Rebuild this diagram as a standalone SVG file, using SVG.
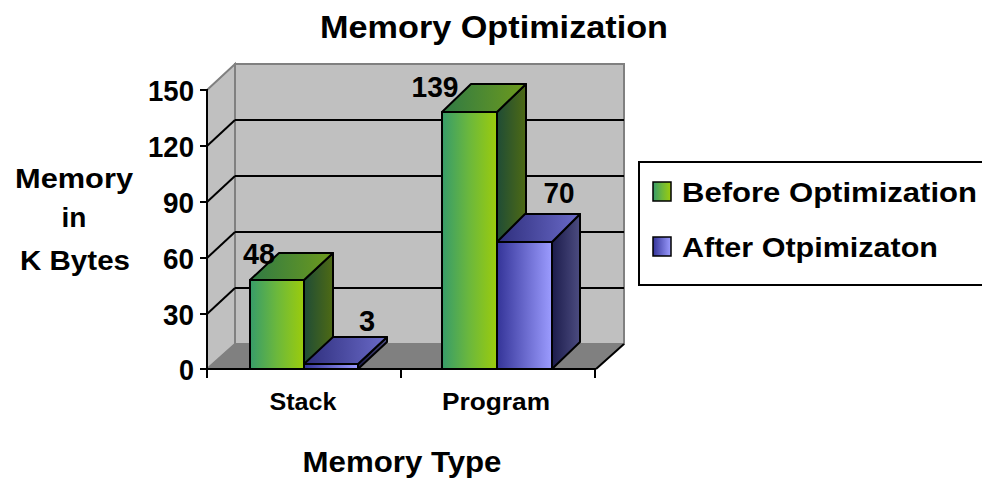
<svg xmlns="http://www.w3.org/2000/svg" width="982" height="486" viewBox="0 0 982 486">
<style>
text{font-family:"Liberation Sans",Arial,sans-serif;font-weight:bold;fill:#000}
.wall{fill:#c0c0c0;stroke:#808080;stroke-width:2}
.floor{fill:#808080;stroke:#808080;stroke-width:1}
.grid{stroke:#000;stroke-width:2;fill:none}
.axis{stroke:#000;stroke-width:2;fill:none}
.bar{stroke:#000;stroke-width:2;stroke-linejoin:round}
.tick{font-size:30px;text-anchor:end}
.val{font-size:29px;text-anchor:middle}
</style>
<defs>
<linearGradient id="gFront" x1="0" y1="0" x2="1" y2="0"><stop offset="0" stop-color="#379c6a"/><stop offset="0.5" stop-color="#6cb83c"/><stop offset="1" stop-color="#9ccc0c"/></linearGradient>
<linearGradient id="gSide" x1="0" y1="0" x2="1" y2="0"><stop offset="0" stop-color="#1f4c36"/><stop offset="1" stop-color="#4e6a14"/></linearGradient>
<linearGradient id="gTop" x1="0" y1="0" x2="1" y2="0"><stop offset="0" stop-color="#2f7a45"/><stop offset="1" stop-color="#6e9a1c"/></linearGradient>
<linearGradient id="bFront" x1="0" y1="0" x2="1" y2="0"><stop offset="0" stop-color="#343498"/><stop offset="1" stop-color="#9c9cff"/></linearGradient>
<linearGradient id="bSide" x1="0" y1="0" x2="1" y2="0"><stop offset="0" stop-color="#1c1c4c"/><stop offset="1" stop-color="#4c4c80"/></linearGradient>
<linearGradient id="bTop" x1="0" y1="0" x2="1" y2="0"><stop offset="0" stop-color="#2e2e7c"/><stop offset="1" stop-color="#6a6ac8"/></linearGradient>
</defs>
<rect width="982" height="486" fill="#fff"/>
<text x="494" y="38" font-size="32" text-anchor="middle" textLength="348" lengthAdjust="spacingAndGlyphs">Memory Optimization</text>
<g id="plot-area">
<polygon class="wall" points="235,64 624,64 624,344 235,344"/>
<polygon class="wall" points="207,90 235,64 235,344 207,369"/>
<polygon class="floor" points="207,369 235,344 624,344 596,369"/>
<g class="grid">
<line x1="235" y1="120" x2="624" y2="120"/><line x1="235" y1="176" x2="624" y2="176"/><line x1="235" y1="232" x2="624" y2="232"/><line x1="235" y1="288" x2="624" y2="288"/>
<line x1="207" y1="146" x2="235" y2="120"/><line x1="207" y1="202" x2="235" y2="176"/><line x1="207" y1="258" x2="235" y2="232"/><line x1="207" y1="314" x2="235" y2="288"/>
</g>
<g class="axis">
<line x1="207" y1="89" x2="207" y2="378"/>
<line x1="207" y1="369" x2="596" y2="369"/>
<line x1="596" y1="369" x2="624" y2="344"/>
<line x1="200" y1="90" x2="207" y2="90"/><line x1="200" y1="146" x2="207" y2="146"/><line x1="200" y1="202" x2="207" y2="202"/><line x1="200" y1="258" x2="207" y2="258"/><line x1="200" y1="314" x2="207" y2="314"/><line x1="200" y1="369" x2="207" y2="369"/>
<line x1="401" y1="369" x2="401" y2="378"/><line x1="595" y1="369" x2="595" y2="378"/>
</g>
</g>
<g id="y-axis-labels">
<text class="tick" x="194" y="101" textLength="46" lengthAdjust="spacingAndGlyphs">150</text>
<text class="tick" x="194" y="157" textLength="46" lengthAdjust="spacingAndGlyphs">120</text>
<text class="tick" x="194" y="213" textLength="31" lengthAdjust="spacingAndGlyphs">90</text>
<text class="tick" x="194" y="269" textLength="31" lengthAdjust="spacingAndGlyphs">60</text>
<text class="tick" x="194" y="325" textLength="31" lengthAdjust="spacingAndGlyphs">30</text>
<text class="tick" x="194" y="380" textLength="15" lengthAdjust="spacingAndGlyphs">0</text>
</g>
<g id="bar-stack-before" class="bar">
<polygon fill="url(#gSide)" points="304,280 333,253 333,342 304,369"/>
<polygon fill="url(#gTop)" points="250,280 304,280 333,253 279,253"/>
<rect fill="url(#gFront)" x="250" y="280" width="54" height="89"/>
</g>
<g id="bar-stack-after" class="bar">
<polygon fill="url(#bSide)" points="358,364 387,337 387,342 358,369"/>
<polygon fill="url(#bTop)" points="304,364 358,364 387,337 333,337"/>
<rect fill="url(#bFront)" x="304" y="364" width="54" height="5"/>
</g>
<g id="bar-program-before" class="bar">
<polygon fill="url(#gSide)" points="497,112 526,84 526,342 497,369"/>
<polygon fill="url(#gTop)" points="442,112 497,112 526,84 471,84"/>
<rect fill="url(#gFront)" x="442" y="112" width="55" height="257"/>
</g>
<g id="bar-program-after" class="bar">
<polygon fill="url(#bSide)" points="552,242 580,214 580,342 552,369"/>
<polygon fill="url(#bTop)" points="497,242 552,242 580,214 525,214"/>
<rect fill="url(#bFront)" x="497" y="242" width="55" height="127"/>
</g>
<g id="value-labels">
<text class="val" x="259" y="264" textLength="32" lengthAdjust="spacingAndGlyphs">48</text>
<text class="val" x="367" y="331">3</text>
<text class="val" x="435" y="97" textLength="47" lengthAdjust="spacingAndGlyphs">139</text>
<text class="val" x="559" y="203" textLength="31" lengthAdjust="spacingAndGlyphs">70</text>
</g>
<g id="category-labels">
<text x="303" y="410" font-size="24" text-anchor="middle" textLength="67" lengthAdjust="spacingAndGlyphs">Stack</text>
<text x="496" y="410" font-size="24" text-anchor="middle" textLength="108" lengthAdjust="spacingAndGlyphs">Program</text>
</g>
<g id="axis-titles">
<text x="402" y="472" font-size="30" text-anchor="middle" textLength="199" lengthAdjust="spacingAndGlyphs">Memory Type</text>
<text x="74" y="188" font-size="28" text-anchor="middle" textLength="118" lengthAdjust="spacingAndGlyphs">Memory</text>
<text x="74" y="227" font-size="28" text-anchor="middle">in</text>
<text x="75" y="270" font-size="28" text-anchor="middle" textLength="110" lengthAdjust="spacingAndGlyphs">K Bytes</text>
</g>
<g id="legend">
<rect x="639" y="162" width="360" height="123" fill="#fff" stroke="#000" stroke-width="2"/>
<rect x="653" y="182" width="18" height="19" fill="url(#gFront)" stroke="#000" stroke-width="1.5"/>
<text x="682" y="202" font-size="27" textLength="295" lengthAdjust="spacingAndGlyphs">Before Optimization</text>
<rect x="653" y="237" width="18" height="19" fill="url(#bFront)" stroke="#000" stroke-width="1.5"/>
<text x="682" y="257" font-size="27" textLength="256" lengthAdjust="spacingAndGlyphs">After Otpimizaton</text>
</g>
</svg>
